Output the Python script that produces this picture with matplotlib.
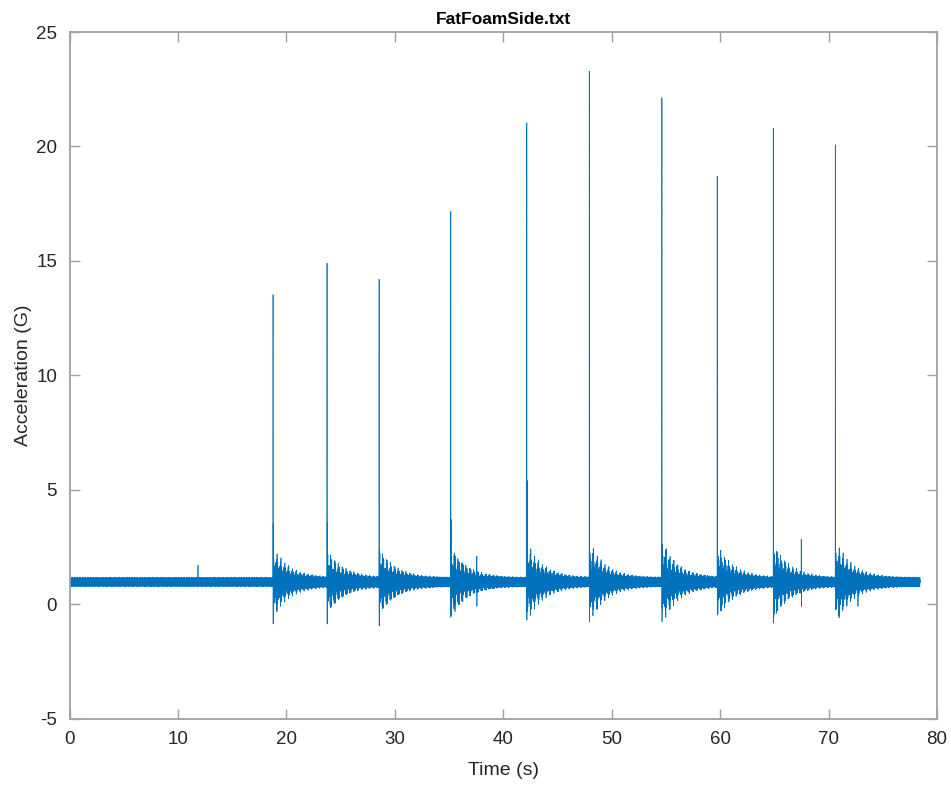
import numpy as np
import matplotlib
matplotlib.use("Agg")
import matplotlib.pyplot as plt

plt.rcParams["font.family"] = ["Liberation Sans", "DejaVu Sans"]
plt.rcParams["axes.unicode_minus"] = False

# Recording span and sample rate
t_end = 78.45          # s
fs = 100.0             # Hz
base_level = 0.97      # G, resting reading

# Drops: impact time, peak, trough right at impact, first rebound
impact_t = [18.77, 23.75, 28.55, 35.16, 42.17, 47.93, 54.63, 59.73, 64.90, 70.62]
peak_g = [13.52, 14.90, 14.19, 17.16, 21.03, 23.29, 22.13, 18.70, 20.80, 20.07]
trough_g = [-0.87, -0.87, -0.95, -0.57, -0.70, -0.77, -0.77, -0.48, -0.83, -0.26]
rebound_g = [3.50, 3.55, 2.40, 3.70, 5.40, 4.00, 2.60, 4.30, 4.00, 3.90]
ring_amp = [1.40, 1.30, 1.40, 1.50, 1.60, 1.60, 1.70, 1.50, 1.60, 1.70]   # G
ring_tau = 1.5   # s

# Isolated glitches: time, high sample, low sample
glitch_t = [11.85, 37.56, 67.48, 72.70]
glitch_hi = [1.70, 2.10, 2.84, 1.10]
glitch_lo = [0.80, -0.09, -0.10, -0.10]

# Sensor noise band, repeated sample by sample
noise_pattern = [0.18, -0.15, 0.10, -0.20, 0.05, -0.08, 0.20, -0.12,
                 0.14, -0.18, 0.02, -0.10, 0.16, -0.05, 0.08, -0.19,
                 0.11, -0.20, 0.19, -0.03, 0.07, -0.16, 0.13, -0.09]

t = np.arange(0.0, t_end, 1.0 / fs)
jitter = np.resize(noise_pattern, t.size)
acc = base_level + jitter

swing = jitter / 0.2
for t0, pk, tr, rb, amp in zip(impact_t, peak_g, trough_g, rebound_g, ring_amp):
    after = t > t0
    dt = t[after] - t0
    cluster = 0.3 + 0.7 * np.abs(np.cos(2 * np.pi * 1.4 * dt)) ** 2
    acc[after] += amp * np.exp(-dt / ring_tau) * cluster * swing[after]
    k = int(round(t0 * fs))
    acc[k] = pk
    acc[k + 1] = tr
    acc[k + 2] = rb
    acc[k + 3] = tr + 0.6

for tg, hi, lo in zip(glitch_t, glitch_hi, glitch_lo):
    k = int(round(tg * fs))
    acc[k] = hi
    acc[k + 1] = lo

fig = plt.figure(figsize=(9.51, 7.85), dpi=100)
ax = fig.add_axes([0.0731, 0.0847, 0.9122, 0.8745])
ax.plot(t, acc, color="#0072BD", lw=0.5)

ax.set_xlim(0, 80)
ax.set_ylim(-5, 25)
ax.set_xticks(range(0, 81, 10))
ax.set_yticks(range(-5, 26, 5))

axis_grey = "#a0a0a0"
for s in ax.spines.values():
    s.set_color(axis_grey)
    s.set_linewidth(1.3)
ax.tick_params(direction="in", top=True, right=True, length=7, width=1.0,
               color=axis_grey, labelcolor="#262626", labelsize=13.5, pad=9)

ax.set_xlabel("Time (s)", fontsize=14, color="#262626", labelpad=10)
ax.set_ylabel("Acceleration (G)", fontsize=14, color="#262626", labelpad=3)
ax.set_title("FatFoamSide.txt", fontsize=12.5, fontweight="bold", color="#000000", pad=6)

fig.savefig("out.png", dpi=100)
